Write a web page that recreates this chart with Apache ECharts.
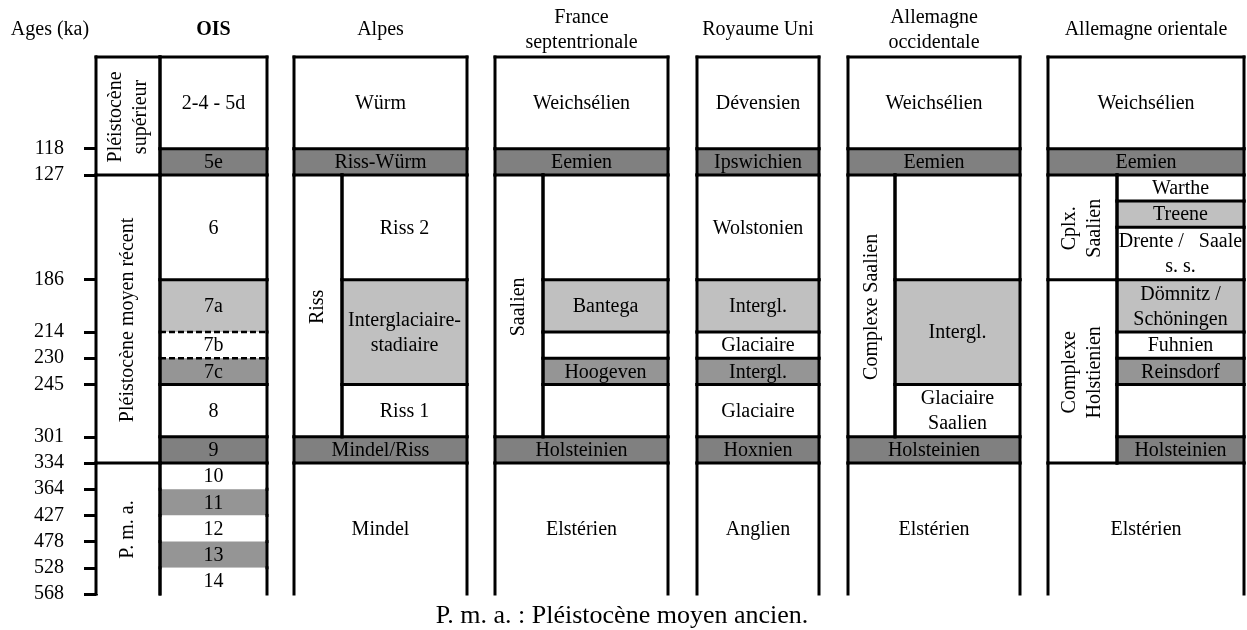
<!DOCTYPE html>
<html><head><meta charset="utf-8">
<script src="https://cdn.jsdelivr.net/npm/echarts@6/dist/echarts.min.js"></script>
<style>html,body{margin:0;padding:0;background:#fff}#c{width:1247px;height:630px}</style>
</head><body><div id="c"></div>
<script>
// ================= DATA =================
// Age (ka) at the lower limit of each isotopic stage row
const ageLabels = ['118','127','186','214','230','245','301','334','364','427','478','528','568'];
const oisStages = ['2-4 - 5d','5e','6','7a','7b','7c','8','9','10','11','12','13','14'];
// relative row heights of each stage (the chart is not to scale)
const oisRowSpans = [3.5,1,4,2,1,1,2,1,1,1,1,1,1];
// 0 = glacial (white), 1 = light interglacial, 2 = medium, 3 = major interglacial
const oisTones = [0,3,0,1,0,2,0,3,0,2,0,2,0];
const oisTopRule = ['solid','solid','solid','solid','dashed','dashed','solid','solid','solid','none','none','none','none'];

const headerAges = 'Ages (ka)';
const columnTitles = ['OIS','Alpes','France\nseptentrionale','Royaume Uni','Allemagne\noccidentale','Allemagne orientale'];
const footNote = 'P. m. a. : Pléistocène moyen ancien.';

// cells: [label, fromRow, toRow, part, tone]   (rows in stage-row units, part: sub / main / full)
const epochCells = [
  ['Pléistocène\nsupérieur', 0, 4.5, 'sub', 0],
  ['Pléistocène moyen récent', 4.5, 15.5, 'sub', 0],
  ['P. m. a.', 15.5, 20.5, 'sub', 0]
];
const alpesCells = [
  ['Würm', 0, 3.5, 'full', 0],
  ['Riss-Würm', 3.5, 4.5, 'full', 3],
  ['Riss', 4.5, 14.5, 'sub', 0],
  ['Riss 2', 4.5, 8.5, 'main', 0],
  ['Interglaciaire-\nstadiaire', 8.5, 12.5, 'main', 1],
  ['Riss 1', 12.5, 14.5, 'main', 0],
  ['Mindel/Riss', 14.5, 15.5, 'full', 3],
  ['Mindel', 15.5, 20.5, 'full', 0]
];
const franceCells = [
  ['Weichsélien', 0, 3.5, 'full', 0],
  ['Eemien', 3.5, 4.5, 'full', 3],
  ['Saalien', 4.5, 14.5, 'sub', 0],
  ['', 4.5, 8.5, 'main', 0],
  ['Bantega', 8.5, 10.5, 'main', 1],
  ['', 10.5, 11.5, 'main', 0],
  ['Hoogeven', 11.5, 12.5, 'main', 2],
  ['', 12.5, 14.5, 'main', 0],
  ['Holsteinien', 14.5, 15.5, 'full', 3],
  ['Elstérien', 15.5, 20.5, 'full', 0]
];
const ukCells = [
  ['Dévensien', 0, 3.5, 'full', 0],
  ['Ipswichien', 3.5, 4.5, 'full', 3],
  ['Wolstonien', 4.5, 8.5, 'full', 0],
  ['Intergl.', 8.5, 10.5, 'full', 1],
  ['Glaciaire', 10.5, 11.5, 'full', 0],
  ['Intergl.', 11.5, 12.5, 'full', 2],
  ['Glaciaire', 12.5, 14.5, 'full', 0],
  ['Hoxnien', 14.5, 15.5, 'full', 3],
  ['Anglien', 15.5, 20.5, 'full', 0]
];
const westGermanyCells = [
  ['Weichsélien', 0, 3.5, 'full', 0],
  ['Eemien', 3.5, 4.5, 'full', 3],
  ['Complexe Saalien', 4.5, 14.5, 'sub', 0],
  ['', 4.5, 8.5, 'main', 0],
  ['Intergl.', 8.5, 12.5, 'main', 1],
  ['Glaciaire\nSaalien', 12.5, 14.5, 'main', 0],
  ['Holsteinien', 14.5, 15.5, 'full', 3],
  ['Elstérien', 15.5, 20.5, 'full', 0]
];
const eastGermanyCells = [
  ['Weichsélien', 0, 3.5, 'full', 0],
  ['Eemien', 3.5, 4.5, 'full', 3],
  ['Cplx.\nSaalien', 4.5, 8.5, 'sub', 0],
  ['Warthe', 4.5, 5.5, 'main', 0],
  ['Treene', 5.5, 6.5, 'main', 1],
  ['Drente /   Saale\ns. s.', 6.5, 8.5, 'main', 0],
  ['Complexe\nHolstienien', 8.5, 15.5, 'sub', 0],
  ['Dömnitz /\nSchöningen', 8.5, 10.5, 'main', 1],
  ['Fuhnien', 10.5, 11.5, 'main', 0],
  ['Reinsdorf', 11.5, 12.5, 'main', 2],
  ['', 12.5, 14.5, 'main', 0],
  ['Holsteinien', 14.5, 15.5, 'main', 3],
  ['Elstérien', 15.5, 20.5, 'full', 0]
];

// ================= LAYOUT / STYLE =================
const LAYOUT = {
  gridTop: 57, gridBottom: 36,
  groups: [
    { x0: 96,   split: 160,  x1: 267 },
    { x0: 294,  split: 342,  x1: 467 },
    { x0: 495,  split: 543,  x1: 668 },
    { x0: 697,  split: 697,  x1: 819 },
    { x0: 848,  split: 895,  x1: 1020 },
    { x0: 1048, split: 1117, x1: 1244 }
  ],
  headerY: 30, footX: 622, footY: 616
};
const TONES = ['#ffffff', '#c0c0c0', '#959595', '#808080'];
const FONT = '"Liberation Serif", "Times New Roman", serif';

// ================= BUILD =================
const tickPos = [];
let acc = 0;
const oisCells = oisStages.map((s, i) => {
  const c = [s, acc, acc + oisRowSpans[i], 'main', oisTones[i], oisTopRule[i]];
  acc += oisRowSpans[i];
  tickPos.push(acc);
  return c;
});
const totalRows = acc;

const groupCells = [epochCells.concat(oisCells), alpesCells, franceCells, ukCells, westGermanyCells, eastGermanyCells];
const cellList = [];
groupCells.forEach((cells, gi) => {
  const g = LAYOUT.groups[gi];
  cells.forEach(c => {
    let x0 = g.x0, x1 = g.x1;
    if (c[3] === 'sub') { x1 = g.split; }
    if (c[3] === 'main') { x0 = g.split; }
    cellList.push({ label: c[0], y0: c[1], y1: c[2], x0, x1, tone: c[4], rot: c[3] === 'sub', rule: c[5] || 'solid' });
  });
});

function renderItem(params, api) {
  const c = cellList[params.dataIndex];
  const p0 = api.coord([api.value(0), api.value(1)]);
  const p1 = api.coord([api.value(2), api.value(3)]);
  const ls = { stroke: '#000', lineWidth: 3, lineCap: 'square' };
  const children = [
    { type: 'rect', shape: { x: p0[0], y: p0[1], width: p1[0] - p0[0], height: p1[1] - p0[1] }, style: { fill: TONES[c.tone] }, z2: 0 },
    { type: 'line', shape: { x1: p0[0], y1: p0[1], x2: p0[0], y2: p1[1] }, style: ls, z2: 10 },
    { type: 'line', shape: { x1: p1[0], y1: p0[1], x2: p1[0], y2: p1[1] }, style: ls, z2: 10 }
  ];
  if (c.rule === 'solid') {
    children.push({ type: 'line', shape: { x1: p0[0], y1: p0[1], x2: p1[0], y2: p0[1] }, style: ls, z2: 11 });
  } else if (c.rule === 'dashed') {
    children.push({ type: 'line', shape: { x1: p0[0], y1: p0[1], x2: p1[0], y2: p0[1] }, style: { stroke: '#000', lineWidth: 2.5, lineDash: [6, 3] }, z2: 11 });
  }
  if (c.label) {
    children.push({
      type: 'text', x: (p0[0] + p1[0]) / 2, y: (p0[1] + p1[1]) / 2 + 1,
      rotation: c.rot ? Math.PI / 2 : 0,
      style: { text: c.label, align: 'center', verticalAlign: 'middle', fontSize: 20, fontFamily: FONT, fill: '#000', lineHeight: 25 },
      z2: 20
    });
  }
  return { type: 'group', children };
}

const graphics = [
  { type: 'text', x: 50, y: LAYOUT.headerY, style: { text: headerAges, align: 'center', verticalAlign: 'middle', fontSize: 20, fontFamily: FONT, fill: '#000' } },
  { type: 'text', x: LAYOUT.footX, y: LAYOUT.footY, style: { text: footNote, align: 'center', verticalAlign: 'middle', fontSize: 26, fontFamily: FONT, fill: '#000' } }
];
columnTitles.forEach((t, i) => {
  const g = LAYOUT.groups[i];
  const cx = i === 0 ? (g.split + g.x1) / 2 : (g.x0 + g.x1) / 2;
  graphics.push({ type: 'text', x: cx, y: LAYOUT.headerY, style: { text: t, align: 'center', verticalAlign: 'middle', fontSize: 20, fontFamily: FONT, fontWeight: i === 0 ? 'bold' : 'normal', fill: '#000', lineHeight: 25 } });
});

const chart = echarts.init(document.getElementById('c'), null, { renderer: 'canvas' });
chart.setOption({
  animation: false,
  backgroundColor: '#fff',
  grid: { left: 96, right: 0, top: LAYOUT.gridTop, bottom: LAYOUT.gridBottom, containLabel: false },
  xAxis: { type: 'value', min: 96, max: 1247, show: false },
  yAxis: {
    type: 'value', inverse: true, min: 0, max: totalRows,
    axisLine: { show: true, onZero: false, lineStyle: { color: '#000', width: 3 } },
    axisTick: { show: true, length: 12, lineStyle: { color: '#000', width: 3 }, customValues: tickPos },
    axisLabel: {
      show: true, customValues: tickPos, margin: 32, fontSize: 20, fontFamily: FONT, color: '#000',
      formatter: v => { const i = tickPos.findIndex(t => Math.abs(t - v) < 1e-6); return i >= 0 ? ageLabels[i] : ''; }
    },
    splitLine: { show: false }
  },
  series: [{
    type: 'custom', clip: false, renderItem,
    encode: { x: [0, 2], y: [1, 3] },
    data: cellList.map(c => [c.x0, c.y0, c.x1, c.y1])
  }],
  graphic: graphics
});
</script></body></html>
